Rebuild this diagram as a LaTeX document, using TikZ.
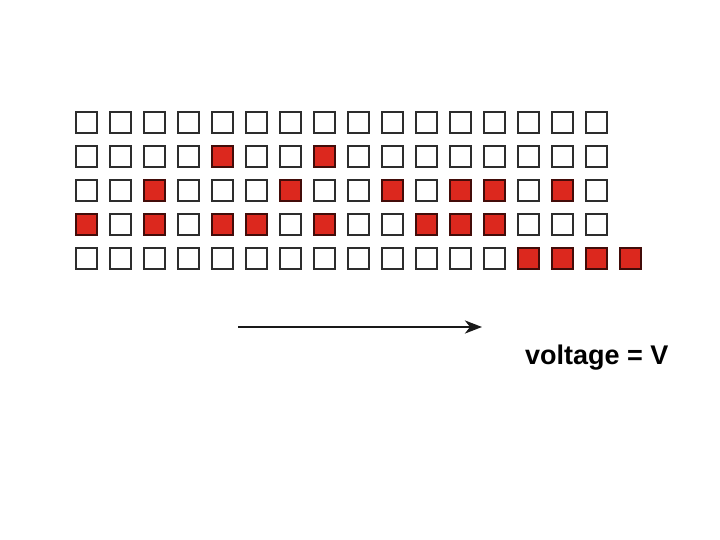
\documentclass[tikz,border=0pt]{standalone}
\usepackage{fontspec}
\setmainfont{Liberation Sans}
\usetikzlibrary{arrows.meta}
\definecolor{cellred}{RGB}{220,40,30}
\definecolor{celledge}{RGB}{45,45,45}
\tikzset{
  cell/.style={draw=celledge, line width=1.7pt, minimum size=21.5pt, inner sep=0pt, fill=white},
  oncell/.style={cell, fill=cellred, draw=black!70!cellred},
  lbl/.style={font=\bfseries\fontsize{27}{30}\selectfont, inner sep=0pt}
}
\begin{document}
\begin{tikzpicture}[x=1pt,y=-1pt]
\useasboundingbox (0,0) rectangle (720,540);
\fill[white] (0,0) rectangle (720,540);
% grid: 5 rows x 16 columns
\foreach \r in {0,...,4}{
  \foreach \c in {0,...,15}{
    \node[cell] (b-\r-\c) at ({86.5+34*\c},{122.5+34*\r}) {};
  }
}
% red cells
\foreach \r/\c in {1/4,1/7,
                   2/2,2/6,2/9,2/11,2/12,2/14,
                   3/0,3/2,3/4,3/5,3/7,3/10,3/11,3/12,
                   4/13,4/14,4/15}{
  \node[oncell] (r-\r-\c) at ({86.5+34*\c},{122.5+34*\r}) {};
}
\node[oncell] (b-4-16) at ({86.5+34*16},{122.5+34*4}) {};
% arrow
\coordinate (a0) at (238,327);
\coordinate (a1) at (482,327);
\draw[line width=2.6pt, draw=black!90, -{Stealth[length=17pt,width=13pt,inset=5pt]}] (a0) -- (a1);
\node[lbl, anchor=base west] (v) at (525,364) {voltage = V};
\end{tikzpicture}
\end{document}
